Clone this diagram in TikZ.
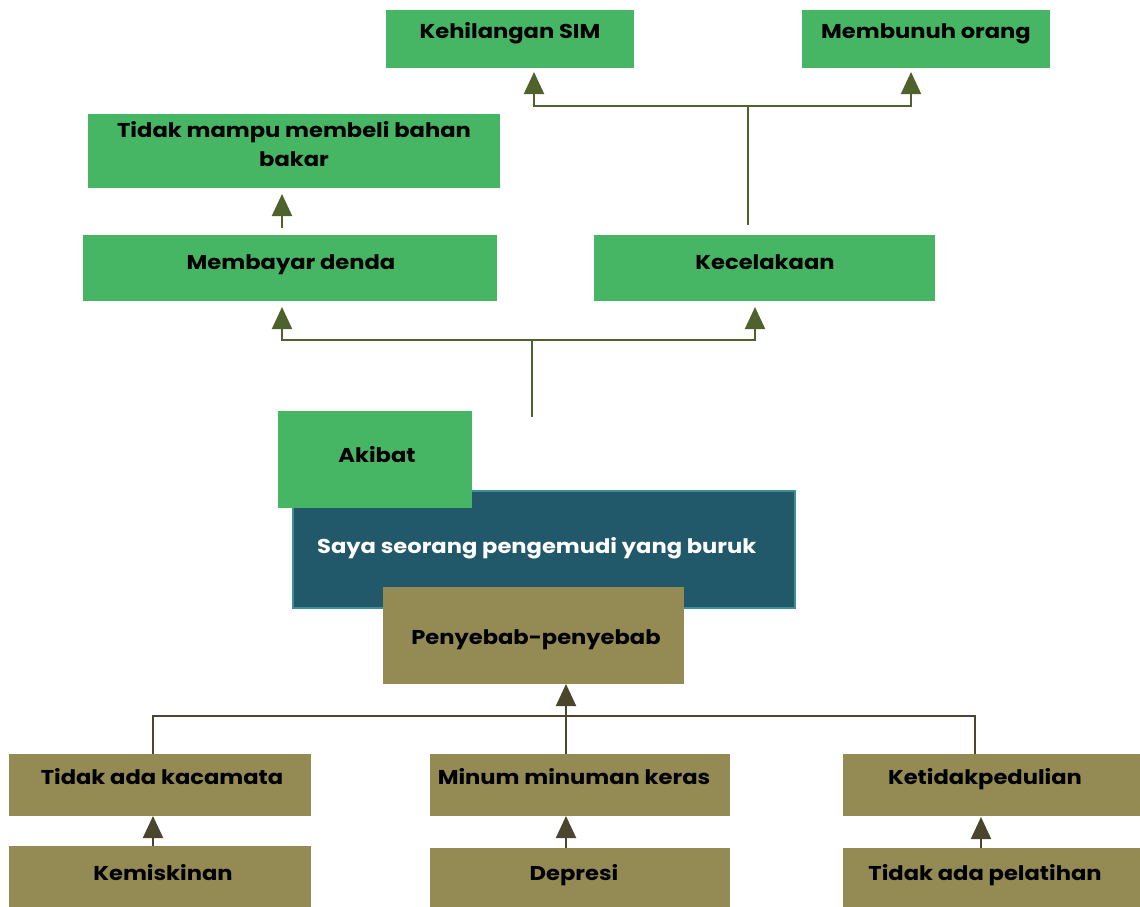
\documentclass[tikz,border=0pt]{standalone}
\usepackage{fontspec}
\setmainfont{Poppins}[FakeStretch=1.13]
\usetikzlibrary{arrows.meta,calc}
\definecolor{effgreen}{HTML}{46B665}
\definecolor{causeolive}{HTML}{948A54}
\definecolor{coreteal}{HTML}{22596A}
\definecolor{coreedge}{HTML}{3F8F98}
\definecolor{upline}{HTML}{50622C}
\definecolor{downline}{HTML}{4A452C}
\tikzset{
  gbox/.style={rectangle, fill=effgreen, draw=none, anchor=north west, inner sep=0pt},
  obox/.style={rectangle, fill=causeolive, draw=none, anchor=north west, inner sep=0pt},
  tbox/.style={rectangle, fill=coreteal, draw=coreedge, line width=1.5pt, anchor=north west, inner sep=0pt},
  lbl/.style={font=\fontsize{20}{29}\selectfont\bfseries, text=black, inner sep=0pt, align=center, anchor=base},
  wlbl/.style={lbl, text=white},
  upconn/.style={draw=upline, line width=2pt, -{Triangle[width=20pt,length=22pt]}},
  upstem/.style={draw=upline, line width=2pt},
  dnconn/.style={draw=downline, line width=2pt, -{Triangle[width=20pt,length=22pt]}},
  dnstem/.style={draw=downline, line width=2pt},
}
\begin{document}
\begin{tikzpicture}[x=1pt,y=-1pt]
\useasboundingbox (0,0) rectangle (1140,907);

% ---- effects (green) ----
\node[gbox, minimum width=248pt, minimum height=58pt] (ksim) at (386,10) {};
\node[lbl] (ksimT) at (510,39) {Kehilangan SIM};
\node[gbox, minimum width=248pt, minimum height=58pt] (bunuh) at (802,10) {};
\node[lbl] (bunuhT) at (926,39) {Membunuh orang};
\node[gbox, minimum width=412pt, minimum height=74pt] (bahan) at (88,114) {};
\node[lbl] (bahanT) at (294,166) {Tidak mampu membeli bahan\\bakar};
\node[gbox, minimum width=414pt, minimum height=66pt] (denda) at (83,235) {};
\node[lbl] (dendaT) at (291,269) {Membayar denda};
\node[gbox, minimum width=341pt, minimum height=66pt] (kec) at (594,235) {};
\node[lbl] (kecT) at (765,269) {Kecelakaan};

% ---- core problem ----
\node[tbox, minimum width=502pt, minimum height=117pt] (core) at (292,490) {};
\node[wlbl, anchor=base west] (coreT) at (317,553) {Saya seorang pengemudi yang buruk};
\node[gbox, minimum width=194pt, minimum height=97pt] (akibat) at (278,411) {};
\node[lbl] (akibatT) at (377,462) {Akibat};
\node[obox, minimum width=301pt, minimum height=97pt] (sebab) at (383,587) {};
\node[lbl] (sebabT) at (536,644) {Penyebab-penyebab};

% ---- causes (olive) ----
\node[obox, minimum width=302pt, minimum height=62pt] (kaca) at (9,754) {};
\node[lbl] (kacaT) at (162,784) {Tidak ada kacamata};
\node[obox, minimum width=300pt, minimum height=62pt] (minum) at (430,754) {};
\node[lbl] (minumT) at (574,784) {Minum minuman keras};
\node[obox, minimum width=297pt, minimum height=62pt] (peduli) at (843,754) {};
\node[lbl] (peduliT) at (985,784) {Ketidakpedulian};
\node[obox, minimum width=302pt, minimum height=61pt] (miskin) at (9,846) {};
\node[lbl] (miskinT) at (163,880) {Kemiskinan};
\node[obox, minimum width=300pt, minimum height=59pt] (depresi) at (430,848) {};
\node[lbl] (depresiT) at (574,880) {Depresi};
\node[obox, minimum width=297pt, minimum height=59pt] (latih) at (843,848) {};
\node[lbl] (latihT) at (985,880) {Tidak ada pelatihan};

% ---- connector points ----
\coordinate (kecStem) at (748,225);
\coordinate (kecJoin) at (748,106);
\coordinate (ksimTip) at (534,72);
\coordinate (bunuhTip) at (911,72);
\coordinate (dendaStem) at (282,228);
\coordinate (bahanTip) at (282,194);
\coordinate (akStem) at (532,417);
\coordinate (akJoin) at (532,340);
\coordinate (dendaTip) at (282,307);
\coordinate (kecTip) at (755,307);
\coordinate (bar) at (566,716);
\coordinate (sebabTip) at (566,684);
\coordinate (kacaTop) at (153,754);
\coordinate (peduliTop) at (975,754);
\coordinate (minumTop) at (566,754);
\coordinate (kacaTip) at (153,816);
\coordinate (miskinTop) at (153,846);
\coordinate (minumTip) at (566,816);
\coordinate (depresiTop) at (566,848);
\coordinate (peduliTip) at (981,817);
\coordinate (latihTop) at (981,848);

% ---- effect connectors ----
\draw[upstem] (kecStem) -- (kecJoin);
\draw[upconn] (kecJoin) -| (ksimTip);
\draw[upconn] (kecJoin) -| (bunuhTip);
\draw[upconn] (dendaStem) -- (bahanTip);
\draw[upstem] (akStem) -- (akJoin);
\draw[upconn] (akJoin) -| (dendaTip);
\draw[upconn] (akJoin) -| (kecTip);

% ---- cause connectors ----
\draw[dnconn] (minumTop) -- (sebabTip);
\draw[dnstem] (kacaTop) |- (bar) -| (peduliTop);
\draw[dnconn] (miskinTop) -- (kacaTip);
\draw[dnconn] (depresiTop) -- (minumTip);
\draw[dnconn] (latihTop) -- (peduliTip);
\end{tikzpicture}
\end{document}
